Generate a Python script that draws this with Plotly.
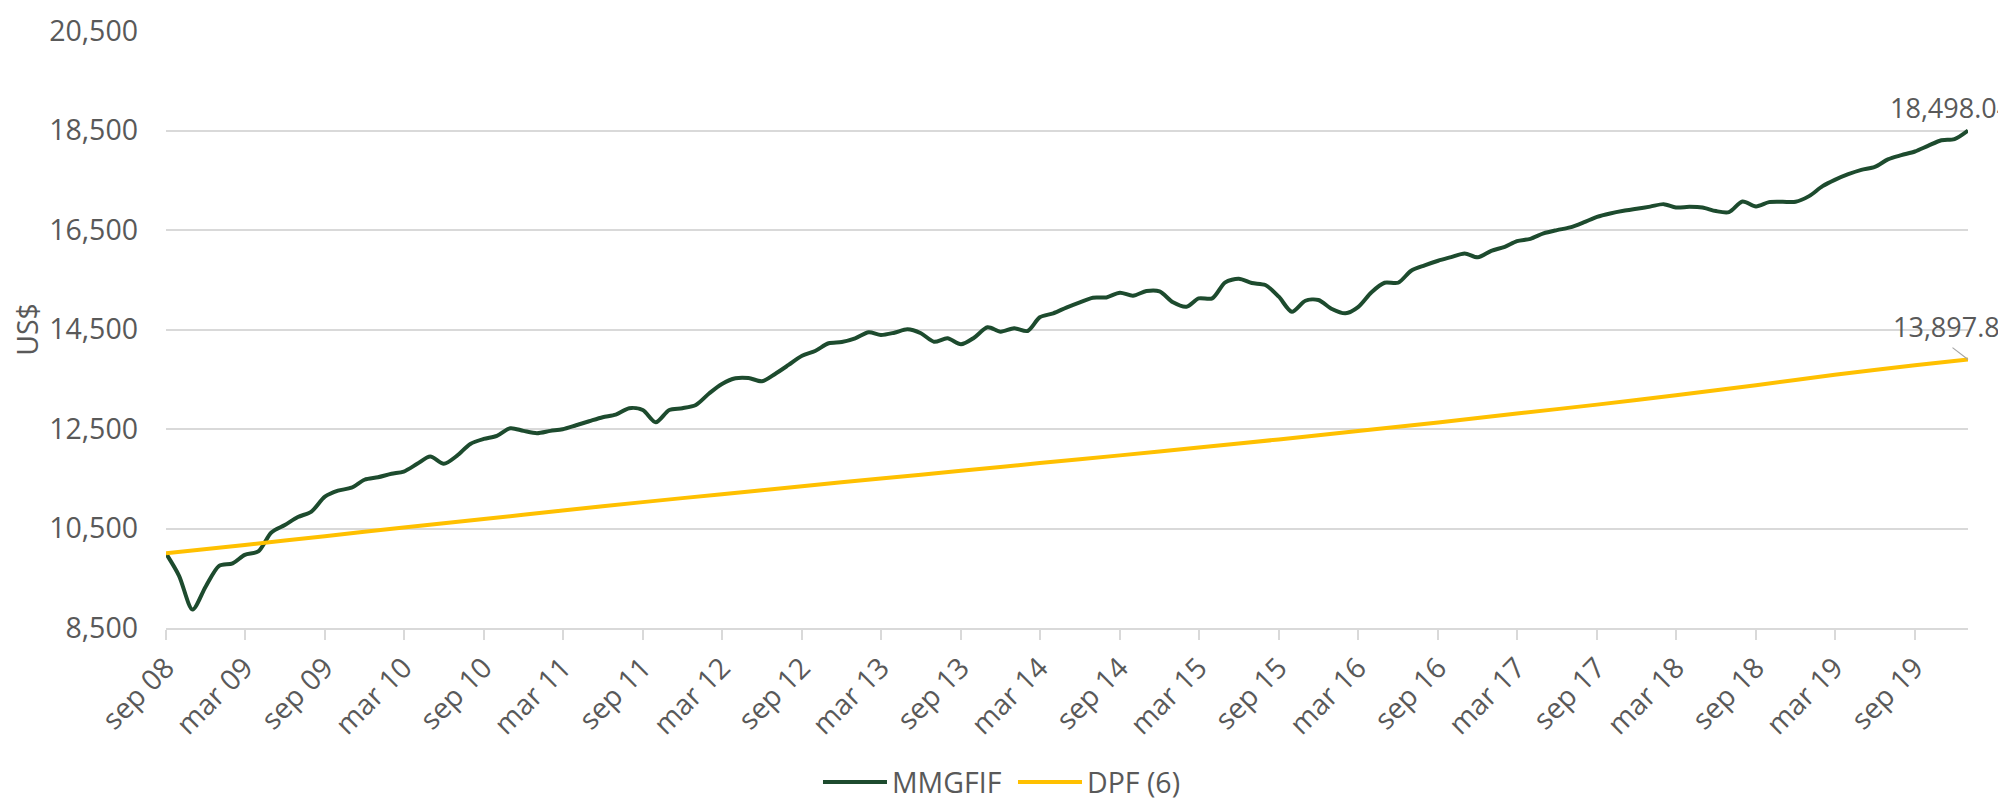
import plotly.graph_objects as go
import pandas as pd

# ---- data -------------------------------------------------------------
months = pd.date_range("2008-09-01", periods=137, freq="MS")

mmgfif = [
    10000, 9550, 8870, 9330, 9750, 9800, 9970, 10040, 10420, 10570,
    10730, 10840, 11140, 11260, 11320, 11480, 11530, 11600, 11645, 11800,
    11946, 11800, 11960, 12200, 12300, 12360, 12516, 12462, 12416, 12462,
    12496, 12576, 12656, 12737, 12789, 12918, 12883, 12636, 12883, 12918,
    12984, 13219, 13406, 13520, 13525, 13460, 13606, 13787, 13974, 14068,
    14223, 14249, 14323, 14444, 14390, 14436, 14504, 14424, 14255, 14323,
    14203, 14335, 14544, 14456, 14524, 14470, 14745, 14825, 14940, 15046,
    15139, 15145, 15239, 15179, 15273, 15266, 15046, 14958, 15126, 15126,
    15448, 15520, 15434, 15394, 15159, 14857, 15078, 15092, 14912, 14825,
    14950, 15250, 15440, 15440, 15681, 15789, 15882, 15956, 16030, 15950,
    16082, 16163, 16277, 16323, 16432, 16498, 16552, 16652, 16765, 16833,
    16886, 16926, 16970, 17020, 16954, 16966, 16954, 16880, 16860, 17074,
    16974, 17060, 17067, 17067, 17181, 17381, 17508, 17622, 17709, 17769,
    17918, 18004, 18078, 18191, 18305, 18325, 18498.04,
]

dpf_idx = [0, 6, 12, 18, 24, 30, 36, 42, 48, 54, 60, 66, 72, 78, 84, 90,
           96, 102, 108, 114, 120, 126, 132, 136]
dpf_values = [10000, 10170, 10345, 10520, 10690, 10860, 11030, 11190, 11350,
              11505, 11660, 11815, 11970, 12130, 12290, 12460, 12630, 12810,
              12990, 13180, 13380, 13590, 13780, 13897.82]
dpf_dates = [months[i] for i in dpf_idx]

tick_idx = list(range(0, 133, 6))
tick_labels = ["sep 08", "mar 09", "sep 09", "mar 10", "sep 10", "mar 11",
               "sep 11", "mar 12", "sep 12", "mar 13", "sep 13", "mar 14",
               "sep 14", "mar 15", "sep 15", "mar 16", "sep 16", "mar 17",
               "sep 17", "mar 18", "sep 18", "mar 19", "sep 19"]
tick_dates = [months[i] for i in tick_idx]

y_ticks = [8500, 10500, 12500, 14500, 16500, 18500, 20500]

GREEN = "#1D4B2E"
GOLD = "#FFC000"
TXT = "#595959"
GRID = "#D9D9D9"
FONT = "Open Sans"
FS = 28.5

fig = go.Figure()
fig.add_trace(go.Scatter(x=months, y=mmgfif, mode="lines", name="MMGFIF",
                         line=dict(color=GREEN, width=4, shape="spline", smoothing=0.8)))
fig.add_trace(go.Scatter(x=dpf_dates, y=dpf_values, mode="lines", name="DPF (6)",
                         line=dict(color=GOLD, width=4, shape="spline", smoothing=0.6)))

# end labels
fig.add_annotation(x=months[-1], y=mmgfif[-1], text="18,498.04", showarrow=False,
                   xanchor="left", yanchor="middle", xshift=-80, yshift=23,
                   font=dict(family=FONT, size=27, color=TXT))
fig.add_annotation(x=months[-1], y=dpf_values[-1], text="", showarrow=True,
                   arrowhead=0, arrowwidth=1.2, arrowcolor="#A6A6A6",
                   ax=-17, ay=-13, standoff=0, startstandoff=0)
fig.add_annotation(x=months[-1], y=dpf_values[-1], text="13,897.82", showarrow=False,
                   xanchor="left", yanchor="middle", xshift=-77, yshift=33,
                   font=dict(family=FONT, size=27, color=TXT))

# page body has an 8px default margin, so the figure is sized to fit the window
fig.update_layout(
    width=1998, height=792,
    margin=dict(l=158, r=38, t=23, b=172, autoexpand=False),
    paper_bgcolor="white", plot_bgcolor="white",
    font=dict(family=FONT, size=FS, color=TXT),
    showlegend=True,
    legend=dict(orientation="h", xref="container", yref="container",
                x=0.4054, xanchor="left", y=0.022, yanchor="middle",
                font=dict(family=FONT, size=FS, color=TXT),
                itemwidth=64, entrywidth=116, entrywidthmode="pixels",
                tracegroupgap=0, bgcolor="rgba(0,0,0,0)"),
)
fig.update_xaxes(
    type="date", range=[months[0], months[-1]], automargin=False,
    tickmode="array", tickvals=tick_dates, ticktext=tick_labels,
    tickangle=-45, ticks="outside", ticklen=10, tickwidth=1.5, tickcolor=GRID,
    showline=True, linecolor=GRID, linewidth=1.5, showgrid=False,
    tickfont=dict(family=FONT, size=FS, color=TXT),
)
fig.update_yaxes(
    range=[8500, 20500], tickmode="array", tickvals=y_ticks, automargin=False,
    tickformat=",d", showgrid=True, gridcolor=GRID, gridwidth=1.5,
    zeroline=False, showline=False, ticklabelstandoff=27,
    tickfont=dict(family=FONT, size=FS, color=TXT),
    title=dict(text="US$", standoff=6, font=dict(family=FONT, size=FS, color=TXT)),
)

fig.write_html("out.html")
